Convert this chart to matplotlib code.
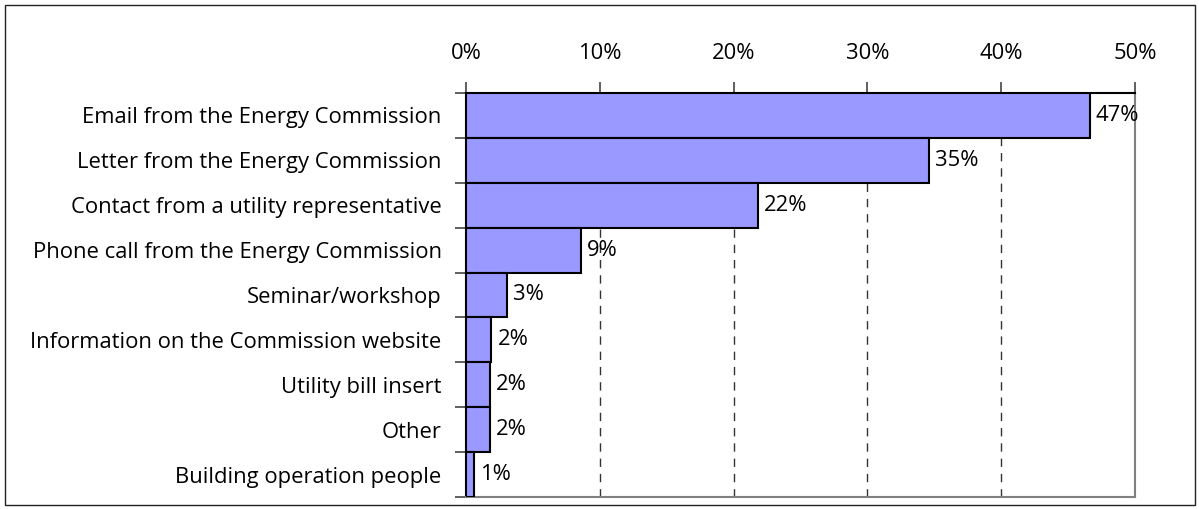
import matplotlib.pyplot as plt
from matplotlib.patches import Rectangle

sources = ['Email from the Energy Commission',
           'Letter from the Energy Commission',
           'Contact from a utility representative',
           'Phone call from the Energy Commission',
           'Seminar/workshop',
           'Information on the Commission website',
           'Utility bill insert',
           'Other',
           'Building operation people']
share = [46.6, 34.6, 21.8, 8.6, 3.1, 1.9, 1.8, 1.8, 0.6]
ticks = [0, 10, 20, 30, 40, 50]

plt.rcParams['font.family'] = ['Open Sans', 'DejaVu Sans']
fs = 15.8

fig = plt.figure(figsize=(11.99, 5.09), dpi=100)
ax = fig.add_axes([466/1199, 1-497/509, 669/1199, 404/509])

y = list(range(len(sources)))
ax.barh(y, share, height=1.0, color='#9999ff', edgecolor='black', linewidth=1.5, zorder=3)
for yi, v in zip(y, share):
    ax.text(v + 0.45, yi, f'{round(v)}%', va='center', ha='left', fontsize=fs, zorder=4)

ax.set_xlim(0, 50)
ax.set_ylim(len(sources) - 0.5, -0.5)
ax.xaxis.tick_top()
ax.set_xticks(ticks)
ax.set_xticklabels([f'{t}%' for t in ticks], fontsize=fs)
ax.set_yticks([i - 0.5 for i in range(len(sources) + 1)], minor=False)
ax.set_yticklabels([])
ax.set_yticks(y, minor=True)
ax.set_yticklabels(sources, minor=True, fontsize=fs)
ax.tick_params(axis='y', which='minor', length=0, pad=17.5)
ax.tick_params(axis='y', which='major', length=8, width=1.2, color='#444444')
ax.tick_params(axis='x', length=8, width=1.2, color='#444444', pad=13)

for t in ticks[1:-1]:
    ax.axvline(t, color='#333333', linestyle=(0, (6, 5)), linewidth=1, zorder=1)

ax.spines['left'].set_color('black')
ax.spines['top'].set_color('black')
ax.spines['right'].set_color('#808080')
ax.spines['bottom'].set_color('#808080')
for s in ax.spines.values():
    s.set_linewidth(1.5)

fig.patches.append(Rectangle((5/1199, 4/509), 1190/1199, 500/509, transform=fig.transFigure,
                             fill=False, edgecolor='#222222', linewidth=1))

fig.savefig('out.png', dpi=100)
